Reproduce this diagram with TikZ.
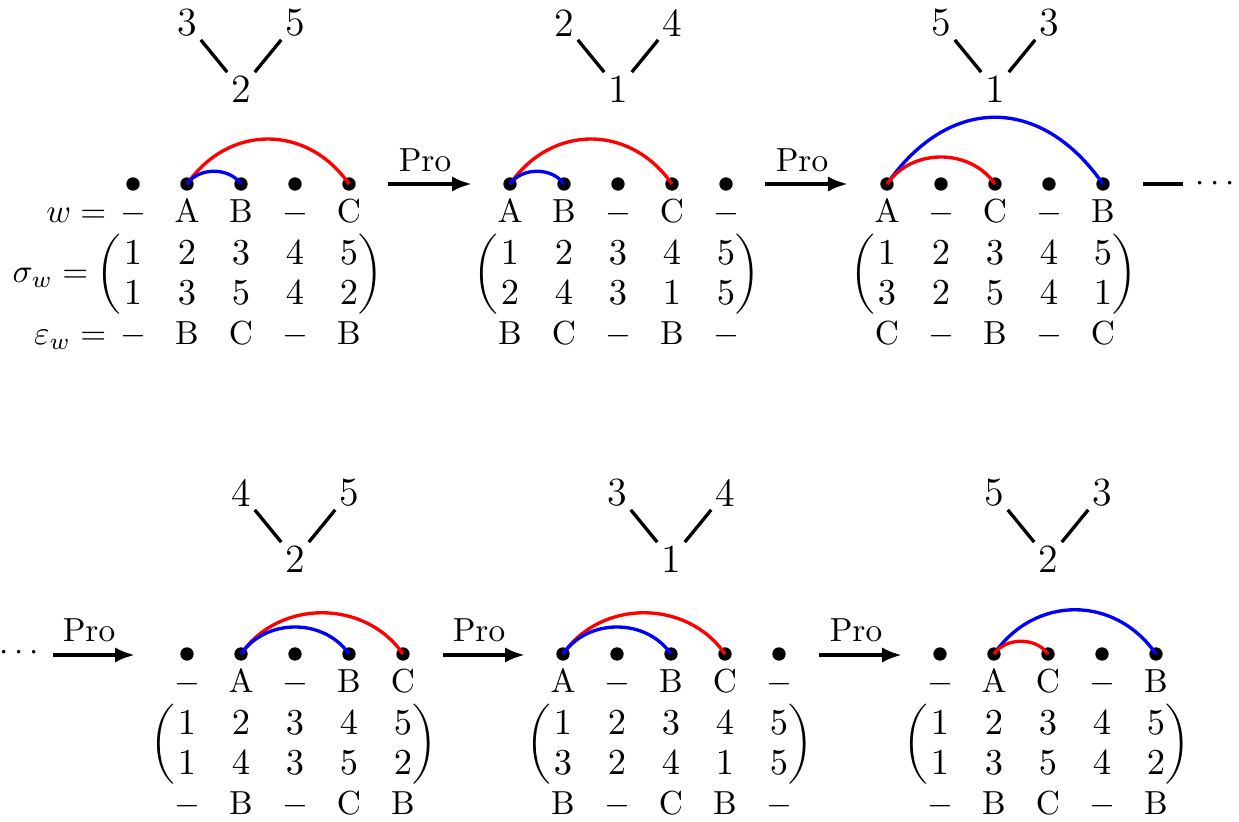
\documentclass[tikz,border=0pt]{standalone}
\usetikzlibrary{arrows.meta}
\tikzset{
  dotnode/.style={circle, fill=black, inner sep=0pt, minimum size=4pt},
  lab/.style={anchor=base, inner sep=0pt},
  numlab/.style={anchor=base, inner sep=0pt, font=\fontsize{10.95}{13}\selectfont},
  tnode/.style={inner sep=1pt, font=\large},
  tedge/.style={line width=1pt},
  arcline/.style={line width=1pt},
  proarrow/.style={line width=1.3pt, -{Latex[length=6pt,width=4.6pt]}},
  proline/.style={line width=1.3pt},
  parennode/.style={inner sep=0pt},
}
% #1 prefix, #2 x of column 1, #3 y of dots, #4 letters, #5 second matrix row,
% #6 epsilon row, #7 left leaf, #8 root, #9 right leaf
\newcommand\blk[9]{%
  \foreach \i in {1,...,5} \node[dotnode] (#1d\i) at ({#2+(\i-1)*54},#3) {};
  \foreach \t [count=\i] in {#4} \node[lab] (#1w\i) at ({#2+(\i-1)*54},{#3+39}) {\t};
  \foreach \t [count=\i] in {1,2,3,4,5} \node[numlab] (#1a\i) at ({#2+(\i-1)*54},{#3+81}) {$\t$};
  \foreach \t [count=\i] in {#5} \node[numlab] (#1b\i) at ({#2+(\i-1)*54},{#3+121}) {$\t$};
  \foreach \t [count=\i] in {#6} \node[lab] (#1e\i) at ({#2+(\i-1)*54},{#3+161}) {\t};
  \node[parennode] (#1lp) at ({#2-24},{#3+90}) {$\biggl($};
  \node[parennode] (#1rp) at ({#2+238},{#3+90}) {$\biggr)$};
  \node[tnode] (#1tl) at ({#2+54},{#3-161}) {#7};
  \node[tnode] (#1tr) at ({#2+162},{#3-161}) {#9};
  \node[tnode] (#1tc) at ({#2+108},{#3-95}) {#8};
  \draw[tedge] (#1tl) -- (#1tc);
  \draw[tedge] (#1tr) -- (#1tc);
}
% #1 colour, #2 from, #3 to, #4 horizontal control offset, #5 vertical control offset
\newcommand\arcc[5]{%
  \draw[arcline,#1] (#2.center) .. controls +(#4,-#5) and +(-#4,-#5) .. (#3.center);
}
\begin{document}
\begin{tikzpicture}[x=0.3pt,y=-0.3pt]
\useasboundingbox (0,0) rectangle (1239,822);

\blk{A}{133}{184}{$-$,A,B,$-$,C}{1,3,5,4,2}{$-$,B,C,$-$,B}{3}{2}{5}
\blk{B}{510}{184}{A,B,$-$,C,$-$}{2,4,3,1,5}{B,C,$-$,B,$-$}{2}{1}{4}
\blk{C}{887}{184}{A,$-$,C,$-$,B}{3,2,5,4,1}{C,$-$,B,$-$,C}{5}{1}{3}
\blk{D}{187}{654}{$-$,A,$-$,B,C}{1,4,3,5,2}{$-$,B,$-$,C,B}{4}{2}{5}
\blk{E}{563}{654}{A,$-$,B,C,$-$}{3,2,4,1,5}{B,$-$,C,B,$-$}{3}{1}{4}
\blk{F}{940}{654}{$-$,A,C,$-$,B}{1,3,5,4,2}{$-$,B,C,$-$,B}{5}{2}{3}

% arcs
\arcc{red}{Ad2}{Ad5}{42}{60}
\arcc{blue}{Ad2}{Ad3}{12}{17}
\arcc{red}{Bd1}{Bd4}{42}{60}
\arcc{blue}{Bd1}{Bd2}{12}{17}
\arcc{blue}{Cd1}{Cd5}{62}{89}
\arcc{red}{Cd1}{Cd3}{25}{36}
\arcc{red}{Dd2}{Dd5}{38}{55}
\arcc{blue}{Dd2}{Dd4}{25}{36}
\arcc{red}{Ed1}{Ed4}{38}{55}
\arcc{blue}{Ed1}{Ed3}{25}{36}
\arcc{blue}{Fd2}{Fd5}{41}{59}
\arcc{red}{Fd2}{Fd3}{12}{17}

% row labels
\node[inner sep=0pt, anchor=base east] (lw) at (107,223) {$w=$};
\node[inner sep=0pt, anchor=base east] (ls) at (89,283) {$\sigma_w=$};
\node[inner sep=0pt, anchor=base east] (le) at (107,345) {$\varepsilon_w=$};

% arrows
\coordinate (p1s) at (388,184); \coordinate (p1e) at (472,184);
\coordinate (p2s) at (765,184); \coordinate (p2e) at (848,184);
\coordinate (p3s) at (1143,184); \coordinate (p3e) at (1183,184);
\coordinate (q1s) at (53,655); \coordinate (q1e) at (135,655);
\coordinate (q2s) at (443,655); \coordinate (q2e) at (525,655);
\coordinate (q3s) at (819,655); \coordinate (q3e) at (902,655);
\draw[proarrow] (p1s) -- (p1e);
\draw[proarrow] (p2s) -- (p2e);
\draw[proline] (p3s) -- (p3e);
\draw[proarrow] (q1s) -- (q1e);
\draw[proarrow] (q2s) -- (q2e);
\draw[proarrow] (q3s) -- (q3e);
\node[lab] (p1l) at (425,172) {Pro};
\node[lab] (p2l) at (802,172) {Pro};
\node[lab] (q1l) at (89,642) {Pro};
\node[lab] (q2l) at (479,642) {Pro};
\node[lab] (q3l) at (856,642) {Pro};
\node[lab] (dotsr) at (1215,192) {$\cdots$};
\node[lab] (dotsl) at (19,661) {$\cdots$};
\end{tikzpicture}
\end{document}
